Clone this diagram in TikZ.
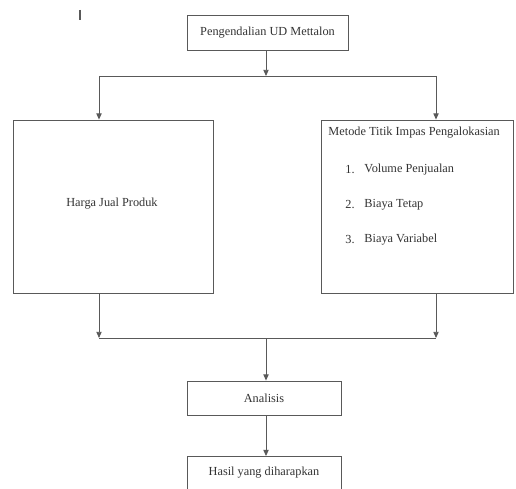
\documentclass[tikz,border=0pt]{standalone}
\usepackage{fontspec}
\setmainfont{Liberation Serif}
\usetikzlibrary{arrows.meta, positioning}

\begin{document}
\begin{tikzpicture}[x=0.02cm, y=-0.02cm, line width=0.5pt, color=black!65,
    >={Triangle[length=3.5pt,width=3pt]},
    font=\fontsize{7}{8}\selectfont, text=black!80]
  \tikzset{kotak/.style={draw, rectangle, inner sep=0pt},
           teks/.style={anchor=west, inner sep=0pt}}
  \path[use as bounding box] (0,0) rectangle (516,489);
  \clip (0,0) rectangle (516,489);

  % tanda kecil di pojok
  \draw[line width=1pt] (80,10) -- (80,20);

  % kotak atas
  \node[kotak, minimum width=3.22cm, minimum height=0.7cm] (judul) at (267.5,32.5) {Pengendalian UD Mettalon};

  % dua kotak tengah
  \node[kotak, minimum width=4cm, minimum height=3.46cm] (harga) at (113,206.5) {};
  \node (hargateks) at (112,204) {Harga Jual Produk};
  \node[kotak, minimum width=3.84cm, minimum height=3.46cm] (metode) at (417,206.5) {};
  \node[teks] (metodeteks) at (328,133) {Metode Titik Impas Pengalokasian};
  \node[teks] (no1) at (345,170) {1.};
  \node[teks] (vol) at (364,170) {Volume Penjualan};
  \node[teks] (no2) at (345,205) {2.};
  \node[teks] (tetap) at (364,205) {Biaya Tetap};
  \node[teks] (no3) at (345,240) {3.};
  \node[teks] (var) at (364,240) {Biaya Variabel};

  % kotak bawah
  \node[kotak, minimum width=3.08cm, minimum height=0.68cm] (analisis) at (264,398) {Analisis};
  \node[kotak, minimum width=3.08cm, minimum height=0.66cm] (hasil) at (264,473) {Hasil yang diharapkan};

  % percabangan atas
  \coordinate (cabang) at (266,76);
  \coordinate (kiri) at (99,76);
  \coordinate (kanan) at (436,76);
  \draw[->] (judul.south -| cabang) -- (cabang);
  \draw (kiri) -- (kanan);
  \draw[->] (kiri) -- (kiri |- harga.north);
  \draw[->] (kanan) -- (kanan |- metode.north);

  % penggabungan bawah
  \coordinate (gabung) at (266,338);
  \coordinate (kiribawah) at (99,338);
  \coordinate (kananbawah) at (436,338);
  \draw[->] (harga.south -| kiribawah) -- (kiribawah);
  \draw[->] (metode.south -| kananbawah) -- (kananbawah);
  \draw (kiribawah) -- (kananbawah);
  \draw[->] (gabung) -- (gabung |- analisis.north);
  \draw[->] (analisis.south -| gabung) -- (gabung |- hasil.north);
\end{tikzpicture}
\end{document}
